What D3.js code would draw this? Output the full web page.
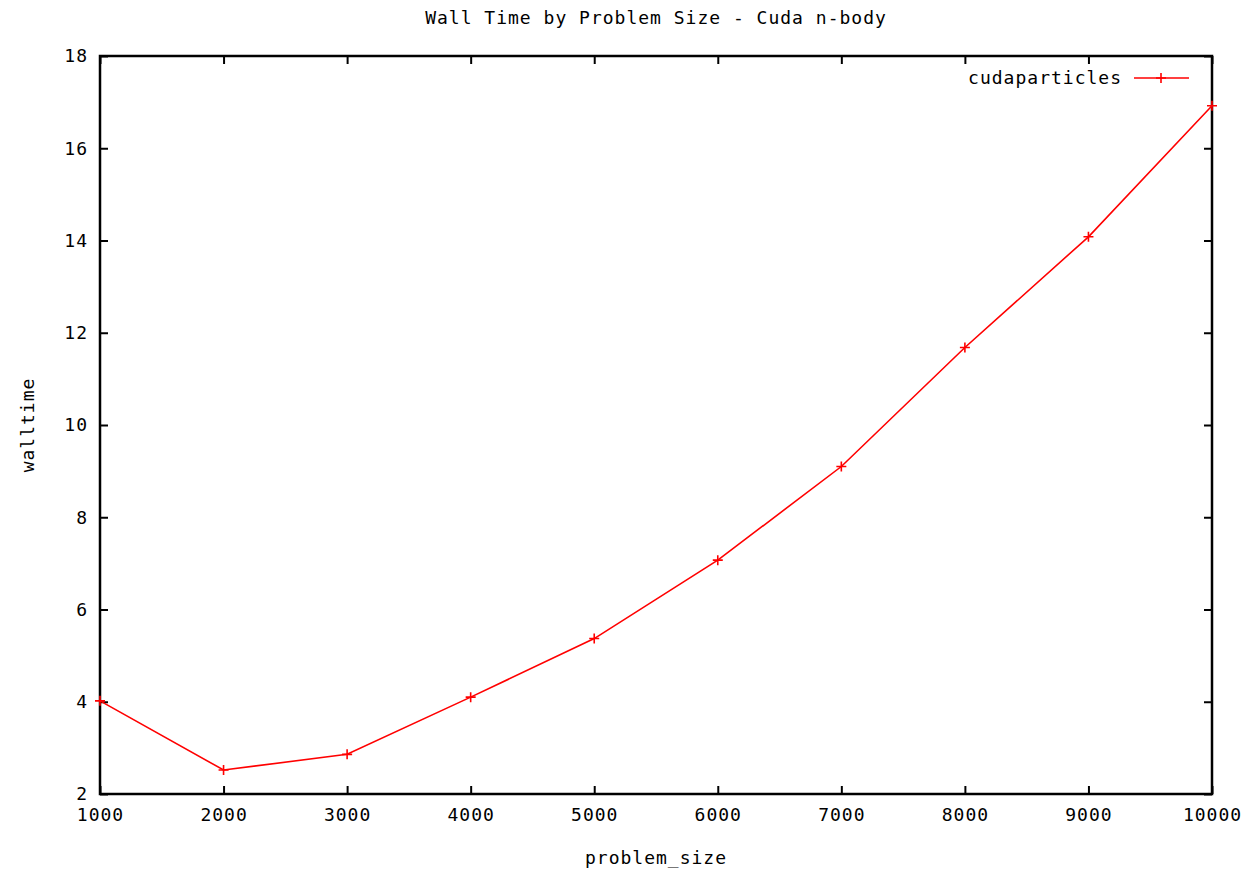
<!DOCTYPE html>
<html>
<head>
<meta charset="utf-8">
<script src="https://cdn.jsdelivr.net/npm/d3@7"></script>
<style>
  body { margin: 0; background: #fff; }
  text { font-family: "DejaVu Sans Mono", monospace; font-size: 18px; letter-spacing: 1px; fill: #000; }
</style>
</head>
<body>
<div id="vis_canvas"></div>
<script>
//data
var sizes = [1000, 2000, 3000, 4000, 5000, 6000, 7000, 8000, 9000, 10000];
var walltimes = [4.02, 2.52, 2.86, 4.1, 5.37, 7.07, 9.1, 11.68, 14.08, 16.92];
var xticks = [1000, 2000, 3000, 4000, 5000, 6000, 7000, 8000, 9000, 10000];
var yticks = [2, 4, 6, 8, 10, 12, 14, 16, 18];
var series_name = "cudaparticles";

var W = 1251, H = 872;
// plot box (note: "top" is a reserved window global, so prefix these)
var pLeft = 100, pRight = 1212, pTop = 56, pBottom = 794;

var x = d3.scaleLinear().domain([1000, 10000]).range([pLeft, pRight]);
var y = d3.scaleLinear().domain([2, 18]).range([pBottom, pTop]);

var svg = d3.select("#vis_canvas").append("svg")
    .attr("width", W).attr("height", H);

// title
svg.append("text")
    .attr("x", (pLeft + pRight) / 2).attr("y", 24)
    .attr("text-anchor", "middle")
    .text("Wall Time by Problem Size - Cuda n-body");

// axes, ticks pointing inward like gnuplot
var tickLen = 8;
svg.append("g").attr("transform", "translate(0," + pBottom + ")")
    .call(d3.axisBottom(x).tickValues(xticks).tickSize(-tickLen).tickPadding(14).tickFormat(d3.format("d")))
    .call(function(g){ g.select(".domain").remove(); });
svg.append("g").attr("transform", "translate(0," + pTop + ")")
    .call(d3.axisTop(x).tickValues(xticks).tickSize(-tickLen).tickFormat(""))
    .call(function(g){ g.select(".domain").remove(); });
svg.append("g").attr("transform", "translate(" + pLeft + ",0)")
    .call(d3.axisLeft(y).tickValues(yticks).tickSize(-tickLen).tickPadding(12).tickFormat(d3.format("d")))
    .call(function(g){ g.select(".domain").remove(); });
svg.append("g").attr("transform", "translate(" + pRight + ",0)")
    .call(d3.axisRight(y).tickValues(yticks).tickSize(-tickLen).tickFormat(""))
    .call(function(g){ g.select(".domain").remove(); });

svg.selectAll(".tick line").attr("stroke", "#000").attr("stroke-width", 2);
svg.selectAll(".tick text")
    .attr("font-family", null).attr("font-size", null).attr("fill", "#000");

// border
svg.append("rect")
    .attr("x", pLeft).attr("y", pTop)
    .attr("width", pRight - pLeft).attr("height", pBottom - pTop)
    .attr("fill", "none").attr("stroke", "#000").attr("stroke-width", 2.5);

// axis labels
svg.append("text")
    .attr("x", (pLeft + pRight) / 2).attr("y", 864)
    .attr("text-anchor", "middle")
    .text("problem_size");
svg.append("text")
    .attr("transform", "translate(34," + ((pTop + pBottom) / 2) + ") rotate(-90)")
    .attr("text-anchor", "middle")
    .text("walltime");

// series
var pts = sizes.map(function(d, i){ return {s: d, t: walltimes[i]}; });
var line = d3.line().x(function(d){ return x(d.s); }).y(function(d){ return y(d.t); });
svg.append("path").datum(pts)
    .attr("d", line)
    .attr("fill", "none").attr("stroke", "#ff0000").attr("stroke-width", 1.6);

var m = 5;
var marks = svg.selectAll(".mark").data(pts).enter().append("g")
    .attr("class", "mark")
    .attr("transform", function(d){ return "translate(" + x(d.s) + "," + y(d.t) + ")"; });
marks.append("path")
    .attr("d", "M" + (-m) + ",0H" + m + "M0," + (-m) + "V" + m)
    .attr("stroke", "#ff0000").attr("stroke-width", 1.6);

// legend
svg.append("text")
    .attr("x", 1122).attr("y", 84)
    .attr("text-anchor", "end")
    .text(series_name);
svg.append("line")
    .attr("x1", 1134).attr("x2", 1189).attr("y1", 78).attr("y2", 78)
    .attr("stroke", "#ff0000").attr("stroke-width", 1.6);
svg.append("path")
    .attr("d", "M" + (1161 - m) + ",78H" + (1161 + m) + "M1161," + (78 - m) + "V" + (78 + m))
    .attr("stroke", "#ff0000").attr("stroke-width", 1.6);
</script>
</body>
</html>
